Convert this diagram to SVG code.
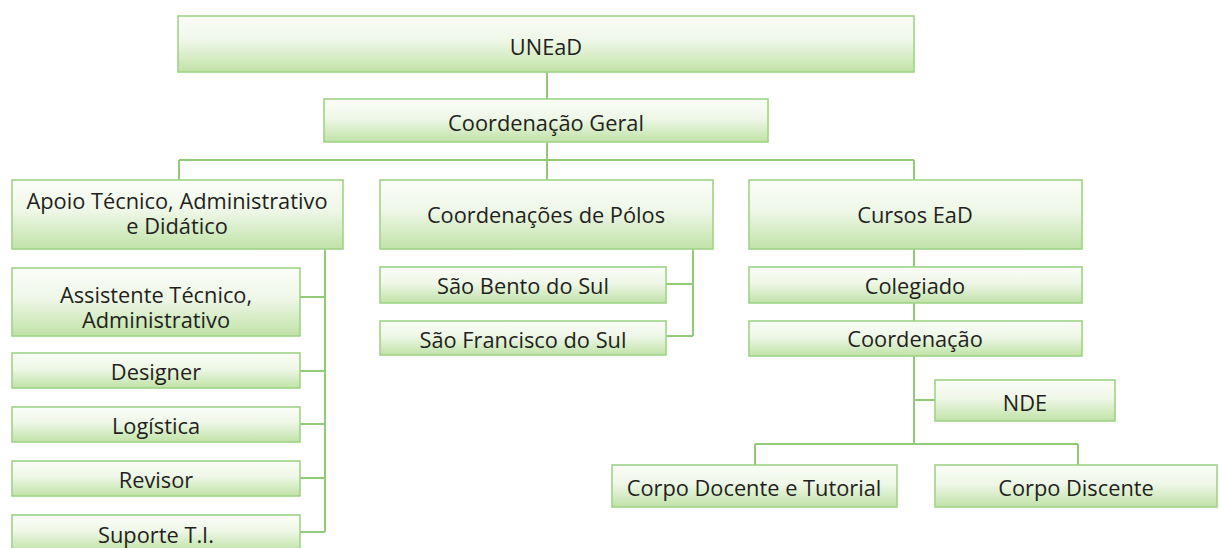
<svg xmlns="http://www.w3.org/2000/svg" width="1219" height="548" viewBox="0 0 1219 548">
<defs>
<linearGradient id="g" x1="0" y1="0" x2="0" y2="1">
<stop offset="0" stop-color="#fbfdf8"/>
<stop offset="0.45" stop-color="#eef7e7"/>
<stop offset="1" stop-color="#c0e2a7"/>
</linearGradient>
<style>
.box{fill:url(#g);stroke:#a0d487;stroke-width:1.6}
.t{font-family:"Open Sans","Liberation Sans",sans-serif;font-size:21.8px;fill:#231f20;text-anchor:middle}
.c{fill:none;stroke:#92cb78;stroke-width:2}
</style>
</defs>
<rect width="1219" height="548" fill="#ffffff"/>
<g id="connectors">
<path class="c" d="M547 72V180M179 160H914M179 160V180M914 160V180"/>
<path class="c" d="M325 249V532M300 297H325M300 371H325M300 424H325M300 478H325M300 532H325"/>
<path class="c" d="M693 249V336M666 284H693M666 336H693"/>
<path class="c" d="M914 249V444M914 400H935M755 444H1078M755 444V465M1078 444V465"/>
</g>
<g id="unead"><rect class="box" x="178" y="16" width="736" height="56"/><text class="t" x="546" y="55">UNEaD</text></g>
<g id="coord-geral"><rect class="box" x="324" y="99" width="444" height="43"/><text class="t" x="546" y="131">Coordenação Geral</text></g>
<g id="apoio"><rect class="box" x="12" y="180" width="331" height="69"/><text class="t" x="177" y="209">Apoio Técnico, Administrativo<tspan x="177" dy="25">e Didático</tspan></text></g>
<g id="assistente"><rect class="box" x="12" y="268" width="288" height="68"/><text class="t" x="156" y="303">Assistente Técnico,<tspan x="156" dy="25">Administrativo</tspan></text></g>
<g id="designer"><rect class="box" x="12" y="353" width="288" height="35"/><text class="t" x="156" y="380">Designer</text></g>
<g id="logistica"><rect class="box" x="12" y="407" width="288" height="35"/><text class="t" x="156" y="434">Logística</text></g>
<g id="revisor"><rect class="box" x="12" y="461" width="288" height="35"/><text class="t" x="156" y="488">Revisor</text></g>
<g id="suporte"><rect class="box" x="12" y="515" width="288" height="36"/><text class="t" x="156" y="543">Suporte T.I.</text></g>
<g id="polos"><rect class="box" x="380" y="180" width="333" height="69"/><text class="t" x="546" y="223">Coordenações de Pólos</text></g>
<g id="sao-bento"><rect class="box" x="380" y="267" width="286" height="36"/><text class="t" x="523" y="294">São Bento do Sul</text></g>
<g id="sao-francisco"><rect class="box" x="380" y="321" width="286" height="34"/><text class="t" x="523" y="348">São Francisco do Sul</text></g>
<g id="cursos"><rect class="box" x="749" y="180" width="333" height="69"/><text class="t" x="915" y="223">Cursos EaD</text></g>
<g id="colegiado"><rect class="box" x="749" y="267" width="333" height="36"/><text class="t" x="915" y="294">Colegiado</text></g>
<g id="coordenacao"><rect class="box" x="749" y="321" width="333" height="35"/><text class="t" x="915" y="347">Coordenação</text></g>
<g id="nde"><rect class="box" x="935" y="380" width="180" height="41"/><text class="t" x="1025" y="411">NDE</text></g>
<g id="docente"><rect class="box" x="612" y="465" width="285" height="42"/><text class="t" x="754" y="496">Corpo Docente e Tutorial</text></g>
<g id="discente"><rect class="box" x="935" y="465" width="282" height="42"/><text class="t" x="1076" y="496">Corpo Discente</text></g>
</svg>
